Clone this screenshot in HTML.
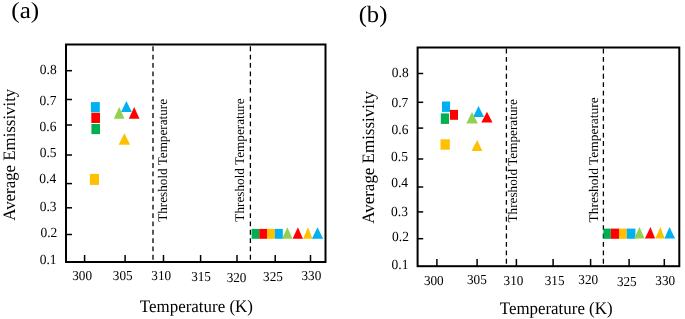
<!DOCTYPE html>
<html><head><meta charset="utf-8"><style>
html,body{margin:0;padding:0;background:#fff;}
svg{display:block;will-change:transform;}
text{font-family:"Liberation Serif", serif;fill:#000;text-rendering:geometricPrecision;}
</style></head><body>
<svg width="685" height="319" viewBox="0 0 685 319">
<rect width="685" height="319" fill="#fff"/>
<line x1="153" y1="46.36" x2="153" y2="262" stroke="#000" stroke-width="1.3" stroke-dasharray="4.8 3.54"/>
<line x1="250.4" y1="46.36" x2="250.4" y2="262" stroke="#000" stroke-width="1.3" stroke-dasharray="4.8 3.54"/>
<line x1="66" y1="70.7" x2="72" y2="70.7" stroke="#000" stroke-width="1.5"/>
<line x1="66" y1="99.5" x2="72" y2="99.5" stroke="#000" stroke-width="1.5"/>
<line x1="66" y1="125" x2="72" y2="125" stroke="#000" stroke-width="1.5"/>
<line x1="66" y1="155" x2="72" y2="155" stroke="#000" stroke-width="1.5"/>
<line x1="66" y1="183.6" x2="72" y2="183.6" stroke="#000" stroke-width="1.5"/>
<line x1="66" y1="207.8" x2="72" y2="207.8" stroke="#000" stroke-width="1.5"/>
<line x1="66" y1="234.5" x2="72" y2="234.5" stroke="#000" stroke-width="1.5"/>
<line x1="84.6" y1="255" x2="84.6" y2="262" stroke="#000" stroke-width="1.5"/>
<line x1="125.1" y1="255" x2="125.1" y2="262" stroke="#000" stroke-width="1.5"/>
<line x1="163.5" y1="255" x2="163.5" y2="262" stroke="#000" stroke-width="1.5"/>
<line x1="200.6" y1="255" x2="200.6" y2="262" stroke="#000" stroke-width="1.5"/>
<line x1="237" y1="255" x2="237" y2="262" stroke="#000" stroke-width="1.5"/>
<line x1="275.2" y1="255" x2="275.2" y2="262" stroke="#000" stroke-width="1.5"/>
<line x1="310.5" y1="255" x2="310.5" y2="262" stroke="#000" stroke-width="1.5"/>
<rect x="66" y="44.5" width="259.5" height="217.5" fill="none" stroke="#000" stroke-width="2.0"/>
<polygon points="126.4,101 131.8,111.9 121.1,111.9" fill="#00B0F0"/>
<rect x="90.9" y="102.1" width="8.9" height="10.2" fill="#00B0F0"/>
<rect x="91.3" y="112.8" width="8.7" height="10.2" fill="#FF0000"/>
<rect x="91.4" y="124" width="8.6" height="10.1" fill="#00B050"/>
<rect x="89.9" y="173.9" width="9.1" height="11" fill="#FFC000"/>
<rect x="251.6" y="228.9" width="7.6" height="9.9" fill="#00B050"/>
<rect x="259.2" y="228.9" width="7.8" height="9.9" fill="#FF0000"/>
<rect x="267" y="228.9" width="7.9" height="9.9" fill="#FFC000"/>
<rect x="274.9" y="228.9" width="7.9" height="9.9" fill="#00B0F0"/>
<polygon points="119.2,107 124.5,118.7 113.9,118.7" fill="#92D050"/>
<polygon points="134.2,107 139.5,118.7 128.8,118.7" fill="#FF0000"/>
<polygon points="124.4,133.2 130.1,144.7 118.6,144.7" fill="#FFC000"/>
<polygon points="287.4,227.3 292.5,238.8 282,238.8" fill="#92D050"/>
<polygon points="297.9,227.3 303,238.8 292.6,238.8" fill="#FF0000"/>
<polygon points="308,227.3 312.4,238.8 303.1,238.8" fill="#FFC000"/>
<polygon points="317.5,227.3 323.1,238.8 311.9,238.8" fill="#00B0F0"/>
<text transform="translate(39.85,73.74) scale(1,1.03)" font-size="13.5">0.8</text>
<text transform="translate(39.5,104.64) scale(1,1.03)" font-size="13.5">0.7</text>
<text transform="translate(39.5,130.94) scale(1,1.03)" font-size="13.5">0.6</text>
<text transform="translate(39.65,156.94) scale(1,1.03)" font-size="13.5">0.5</text>
<text transform="translate(39.25,183.34) scale(1,1.03)" font-size="13.5">0.4</text>
<text transform="translate(39.65,211.34) scale(1,1.03)" font-size="13.5">0.3</text>
<text transform="translate(40.45,237.24) scale(1,1.03)" font-size="13.5">0.2</text>
<text transform="translate(39.7,263.84) scale(1,1.03)" font-size="13.5">0.1</text>
<text transform="translate(72.25,280) scale(1,1.04)" font-size="13.2">300</text>
<text transform="translate(112.85,279.8) scale(1,1.04)" font-size="13.2">305</text>
<text transform="translate(151.35,279.9) scale(1,1.04)" font-size="13.2">310</text>
<text transform="translate(191.15,281) scale(1,1.04)" font-size="13.2">315</text>
<text transform="translate(226.65,281.7) scale(1,1.04)" font-size="13.2">320</text>
<text transform="translate(263.1,281.2) scale(1,1.04)" font-size="13.2">325</text>
<text transform="translate(301.45,279.8) scale(1,1.04)" font-size="13.2">330</text>
<text transform="translate(139.85,311.5) scale(1.0031,1.04)" font-size="16.9">Temperature (K)</text>
<text transform="translate(14.9,220.75) rotate(-90) scale(0.9970,1.03)" font-size="16.9">Average Emissivity</text>
<text transform="translate(167.2,221.75) rotate(-90) scale(0.9980,1)" font-size="13.2">Threshold Temperature</text>
<text transform="translate(243.5,221.65) rotate(-90) scale(1.0020,1)" font-size="13.2">Threshold Temperature</text>
<text transform="translate(11.36,17.56) scale(1.0449,0.9674)" font-size="24">(a)</text>
<line x1="506.4" y1="48.6" x2="506.4" y2="266.2" stroke="#000" stroke-width="1.3" stroke-dasharray="4.8 3.61"/>
<line x1="603.4" y1="48.6" x2="603.4" y2="266.2" stroke="#000" stroke-width="1.3" stroke-dasharray="4.8 3.61"/>
<line x1="417.6" y1="73.5" x2="423.2" y2="73.5" stroke="#000" stroke-width="1.5"/>
<line x1="417.6" y1="102.3" x2="423.2" y2="102.3" stroke="#000" stroke-width="1.5"/>
<line x1="417.6" y1="128.1" x2="423.2" y2="128.1" stroke="#000" stroke-width="1.5"/>
<line x1="417.6" y1="159" x2="423.2" y2="159" stroke="#000" stroke-width="1.5"/>
<line x1="417.6" y1="187" x2="423.2" y2="187" stroke="#000" stroke-width="1.5"/>
<line x1="417.6" y1="211.9" x2="423.2" y2="211.9" stroke="#000" stroke-width="1.5"/>
<line x1="417.6" y1="238.7" x2="423.2" y2="238.7" stroke="#000" stroke-width="1.5"/>
<line x1="436.9" y1="259" x2="436.9" y2="266.2" stroke="#000" stroke-width="1.5"/>
<line x1="477.1" y1="259" x2="477.1" y2="266.2" stroke="#000" stroke-width="1.5"/>
<line x1="516.4" y1="259" x2="516.4" y2="266.2" stroke="#000" stroke-width="1.5"/>
<line x1="553.1" y1="259" x2="553.1" y2="266.2" stroke="#000" stroke-width="1.5"/>
<line x1="590.6" y1="259" x2="590.6" y2="266.2" stroke="#000" stroke-width="1.5"/>
<line x1="629.1" y1="259" x2="629.1" y2="266.2" stroke="#000" stroke-width="1.5"/>
<line x1="664.3" y1="259" x2="664.3" y2="266.2" stroke="#000" stroke-width="1.5"/>
<rect x="417.6" y="47.5" width="261.7" height="218.7" fill="none" stroke="#000" stroke-width="2.0"/>
<polygon points="478.5,105.9 484,116.9 473.1,116.9" fill="#00B0F0"/>
<rect x="442" y="101.5" width="8.1" height="10.4" fill="#00B0F0"/>
<rect x="440.8" y="113.4" width="8.2" height="10.5" fill="#00B050"/>
<rect x="449.9" y="109.9" width="8.1" height="9.9" fill="#FF0000"/>
<rect x="440.5" y="139.3" width="9.3" height="10.4" fill="#FFC000"/>
<rect x="603.4" y="228.6" width="7.4" height="10.2" fill="#00B050"/>
<rect x="610.8" y="228.6" width="8.2" height="10.2" fill="#FF0000"/>
<rect x="619" y="228.6" width="7.8" height="10.2" fill="#FFC000"/>
<rect x="626.8" y="228.6" width="8.6" height="10.2" fill="#00B0F0"/>
<polygon points="472,112.1 477.8,123.6 466.3,123.6" fill="#92D050"/>
<polygon points="487,111.8 492.5,122.6 481.3,122.6" fill="#FF0000"/>
<polygon points="477.2,139.9 482.4,150.9 471.5,150.9" fill="#FFC000"/>
<polygon points="639.5,227.1 644.6,238.6 634,238.6" fill="#92D050"/>
<polygon points="650.5,227.1 655.1,238.6 644.9,238.6" fill="#FF0000"/>
<polygon points="660.4,227.1 664.7,238.6 655.3,238.6" fill="#FFC000"/>
<polygon points="669.5,227.1 675,238.6 664.4,238.6" fill="#00B0F0"/>
<text transform="translate(391.75,76.64) scale(1,1.03)" font-size="13.5">0.8</text>
<text transform="translate(391.4,107.34) scale(1,1.03)" font-size="13.5">0.7</text>
<text transform="translate(391.6,133.74) scale(1,1.03)" font-size="13.5">0.6</text>
<text transform="translate(391.05,160.94) scale(1,1.03)" font-size="13.5">0.5</text>
<text transform="translate(391.15,186.94) scale(1,1.03)" font-size="13.5">0.4</text>
<text transform="translate(391.05,215.84) scale(1,1.03)" font-size="13.5">0.3</text>
<text transform="translate(392.05,241.34) scale(1,1.03)" font-size="13.5">0.2</text>
<text transform="translate(391.6,268.94) scale(1,1.03)" font-size="13.5">0.1</text>
<text transform="translate(423.9,284.8) scale(1,1.04)" font-size="13.2">300</text>
<text transform="translate(467,283.6) scale(1,1.04)" font-size="13.2">305</text>
<text transform="translate(503.55,285) scale(1,1.04)" font-size="13.2">310</text>
<text transform="translate(544.7,285) scale(1,1.04)" font-size="13.2">315</text>
<text transform="translate(578.3,283.6) scale(1,1.04)" font-size="13.2">320</text>
<text transform="translate(616.9,286) scale(1,1.04)" font-size="13.2">325</text>
<text transform="translate(655.3,285) scale(1,1.04)" font-size="13.2">330</text>
<text transform="translate(499.75,314) scale(1.0004,1.04)" font-size="16.9">Temperature (K)</text>
<text transform="translate(373.8,223.75) rotate(-90) scale(1.0030,1.03)" font-size="16.9">Average Emissivity</text>
<text transform="translate(516.9,222.55) rotate(-90) scale(1.0029,1)" font-size="13.2">Threshold Temperature</text>
<text transform="translate(598.4,222.45) rotate(-90) scale(1.0176,1)" font-size="13.2">Threshold Temperature</text>
<text transform="translate(358.68,21.69) scale(1.0231,0.9814)" font-size="24">(b)</text>
</svg>
</body></html>
